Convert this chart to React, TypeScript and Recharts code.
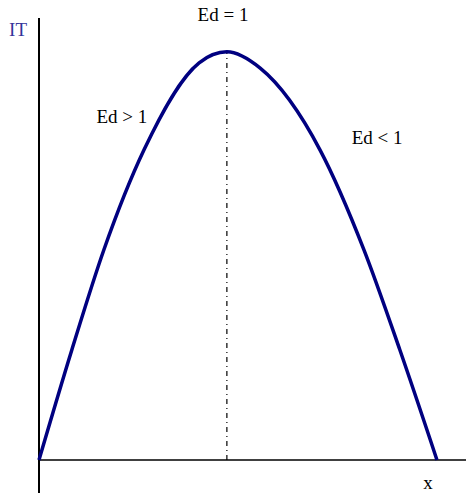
import { LineChart, Line, XAxis, YAxis, ReferenceLine, ReferenceDot, Label } from 'recharts';

// quantity x vs total revenue IT (arbitrary units)
const quantity = [0, 7.7, 15.2, 24.6, 37.5, 44, 51.8, 65.8, 76.1, 84.5, 93.2];
const revenue = [0, 27, 51.5, 76, 97.3, 100, 96, 76, 51.5, 27, 0];

const PEAK_X = 44;
const PEAK_Y = 100;

const notes = [
  { text: 'Ed = 1', x: 43.1, y: 109.1 },
  { text: 'Ed > 1', x: 19.4, y: 84.1 },
  { text: 'Ed < 1', x: 79.2, y: 78.9 },
];

const data = quantity.map((q, i) => ({ q, it: revenue[i] }));

const FONT = "'Times New Roman', 'Liberation Serif', 'DejaVu Serif', serif";

function Note({ viewBox, value, color }: any) {
  const cx = viewBox.x + (viewBox.width || 0) / 2;
  const cy = viewBox.y + (viewBox.height || 0) / 2;
  return (
    <text x={cx} y={cy} textAnchor="middle" dominantBaseline="central" fill={color} fontSize={19} style={{ fontFamily: FONT }}>
      {value}
    </text>
  );
}

export default function App() {
  return (
    <div style={{ position: 'absolute', left: 0, top: 0 }}>
      <LineChart width={466} height={493} data={data} margin={{ top: 18, right: 0, bottom: 0, left: 39 }}>
        <XAxis type="number" dataKey="q" domain={[0, 100]} hide />
        <YAxis type="number" domain={[-8.1, 108.3]} hide />
        <ReferenceLine x={0} stroke="#000" strokeWidth={2} ifOverflow="visible" />
        <ReferenceLine y={0} stroke="#000" strokeWidth={1.5} ifOverflow="visible" />
        <ReferenceLine
          segment={[{ x: PEAK_X, y: 0 }, { x: PEAK_X, y: PEAK_Y }]}
          stroke="#000"
          strokeWidth={1.2}
          strokeDasharray="5 4 1 4"
        />
        <Line
          type="monotone"
          dataKey="it"
          stroke="#000080"
          strokeWidth={3.5}
          dot={false}
          isAnimationActive={false}
        />
        {notes.map((n) => (
          <ReferenceDot key={n.text} x={n.x} y={n.y} r={0} ifOverflow="visible" stroke="none" fill="none">
            <Label value={n.text} content={(p: any) => <Note {...p} value={n.text} color="#000" />} />
          </ReferenceDot>
        ))}
        <ReferenceDot x={-4.9} y={105.4} r={0} ifOverflow="visible" stroke="none" fill="none">
          <Label value="IT" content={(p: any) => <Note {...p} value="IT" color="#33339a" />} />
        </ReferenceDot>
        <ReferenceDot x={91.1} y={-5.6} r={0} ifOverflow="visible" stroke="none" fill="none">
          <Label value="x" content={(p: any) => <Note {...p} value="x" color="#000" />} />
        </ReferenceDot>
      </LineChart>
    </div>
  );
}
